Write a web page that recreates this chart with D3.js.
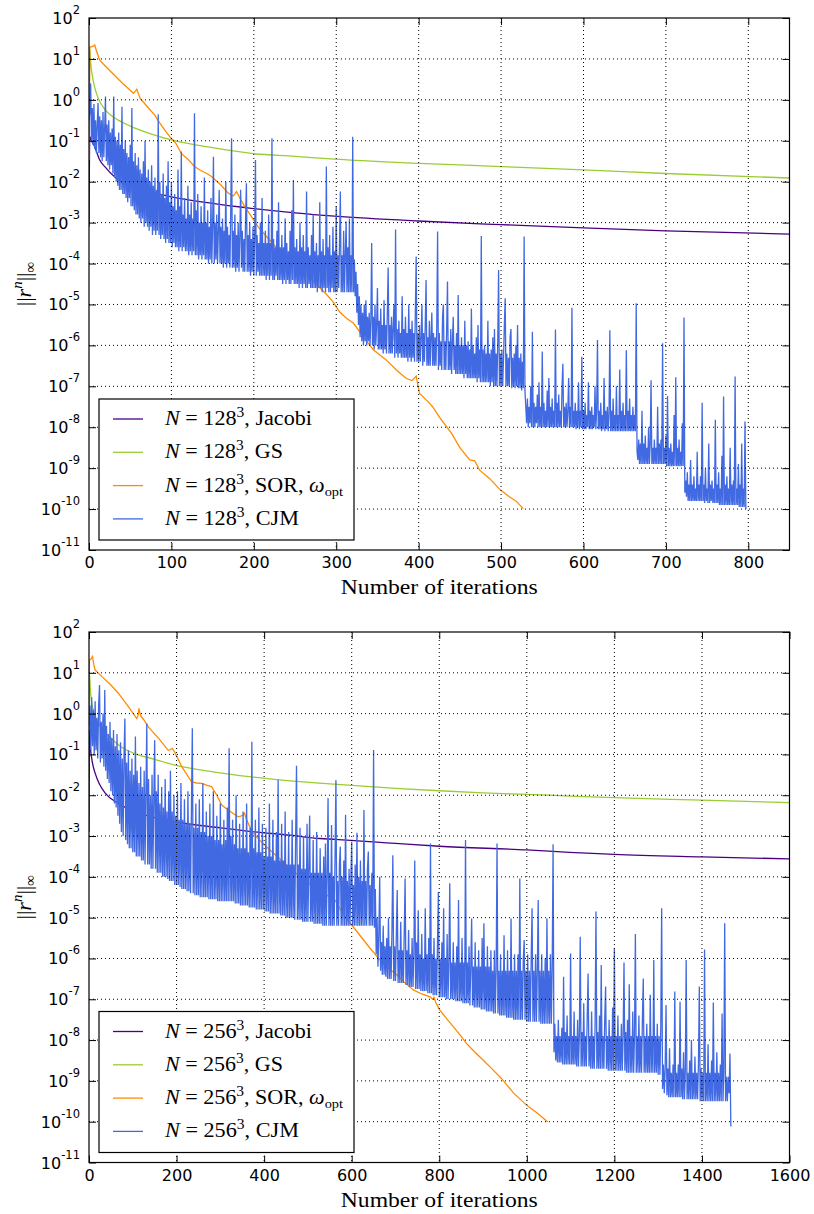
<!DOCTYPE html>
<html>
<head>
<meta charset="utf-8">
<script src="https://cdn.jsdelivr.net/npm/d3@7"></script>
<style>
  body { margin: 0; background: #fff; }
</style>
</head>
<body>
<svg id="fig" width="814" height="1214"></svg>
<script>
// ---- data (residual as log10) ----
var xTicks128 = [0, 100, 200, 300, 400, 500, 600, 700, 800];
var xTicks256 = [0, 200, 400, 600, 800, 1000, 1200, 1400, 1600];
var yTickExps = [2, 1, 0, -1, -2, -3, -4, -5, -6, -7, -8, -9, -10, -11];
var methods = ["Jacobi", "GS", "SOR", "CJM"];
var gridSizes = ["128", "256"];

var jac128It  = [0, 1, 3, 7, 13, 20, 36, 54, 75, 100, 150, 197, 250, 298, 400, 500, 600, 700, 850];
var jac128Log = [-3.1, -0.9, -1.0, -1.15, -1.47, -1.65, -1.96, -2.12, -2.25, -2.37, -2.53, -2.65, -2.76, -2.84, -2.96, -3.05, -3.13, -3.2, -3.28];

var gs128It  = [0, 1, 2, 4, 7, 12, 20, 35, 50, 75, 100, 150, 197, 250, 298, 400, 500, 600, 700, 850];
var gs128Log = [-1.47, 1.22, 0.9, 0.6, 0.3, 0.0, -0.25, -0.49, -0.64, -0.83, -0.98, -1.17, -1.31, -1.38, -1.45, -1.55, -1.63, -1.71, -1.8, -1.91];

var sor128It  = [0, 1, 4, 7, 9, 13, 20, 30, 40, 54, 58, 62, 70, 80, 86, 92, 98, 105, 112, 120, 128, 135, 143, 149,
                 160, 169, 175, 179, 183, 189, 197, 205, 218, 230, 245, 258, 268, 278, 288, 296, 304, 312, 321, 333,
                 345, 361, 373, 385, 392, 397, 401, 410, 417, 426, 440, 450, 462, 468, 474, 486, 499, 510, 518, 527];
var sor128Log = [-1.47, 1.29, 1.3, 1.34, 1.2, 0.97, 0.82, 0.62, 0.42, 0.16, 0.26, 0.04, -0.15, -0.38, -0.57, -0.74, -0.9, -1.05, -1.31, -1.45, -1.63, -1.72, -1.8, -1.88,
                 -2.08, -2.28, -2.35, -2.24, -2.4, -2.61, -2.85, -3.1, -3.4, -3.67, -3.95, -4.16, -4.35, -4.55, -4.75, -4.93, -5.18, -5.33, -5.46, -5.79,
                 -6.11, -6.36, -6.6, -6.81, -6.86, -6.75, -7.17, -7.35, -7.5, -7.78, -8.15, -8.5, -8.8, -8.82, -9.05, -9.25, -9.53, -9.7, -9.8, -9.99];

// CJM, N=128^3: one value per iteration (0..797)
var cjm128Step = 1;
var cjm128Log = [
  -0.5, -0.3, 0.4, -1.0, -0.2, -1.1, -0.1, -1.2, -0.5, -1.3, -0.6, -0.08, -1.3, -0.4, -1.4, -0.5, -1.5, -0.3, -1.4, -0.7,
  0.08, -1.5, -0.6, -1.6, -0.5, -1.7, -0.8, -1.6, -0.7, -1.8, 0.08, -1.9, -0.9, -2.0, -1.0, -2.1, -0.8, -2.2, -1.1, -2.2,
  -0.17, -2.3, -1.2, -2.3, -1.0, -2.4, -1.3, -2.5, -1.4, -2.4, -1.1, -2.6, -0.2, -2.6, -1.5, -2.7, -1.3, -2.8, -1.6, -2.8,
  -1.4, -2.9, -1.7, -3.0, -1.8, -2.9, -1.5, -3.1, -1.0, -3.0, -1.9, -3.1, -1.7, -3.2, -2.0, -3.1, -1.6, -3.3, -2.1, -3.2,
  -1.9, -3.3, -2.2, -3.2, -0.35, -3.3, -2.0, -3.4, -2.3, -3.3, -1.8, -3.4, -2.4, -3.5, -2.1, -3.4, -1.5, -3.5, -2.5, -3.5,
  -2.0, -3.6, -2.6, -3.5, -2.3, -3.6, -2.7, -3.6, -1.7, -3.7, -2.6, -3.6, -1.26, -3.7, -2.8, -3.6, -2.4, -3.7, -2.9, -3.7,
  -2.1, -3.8, -2.8, -3.7, -2.5, -3.8, -2.9, -3.7, -0.33, -3.8, -2.7, -3.8, -2.3, -3.9, -3.0, -3.8, -2.6, -3.9, -3.0, -3.8,
  -1.9, -3.9, -3.0, -3.9, -2.7, -4.0, -3.1, -3.9, -2.4, -4.0, -3.1, -1.39, -4.0, -3.0, -3.9, -2.8, -4.0, -3.2, -2.2, -4.0,
  -3.1, -4.0, -2.9, -4.1, -3.2, -4.0, -2.0, -4.1, -3.1, -4.0, -3.3, -4.1, -2.7, -0.94, -4.1, -3.2, -4.1, -2.8, -4.2, -3.3,
  -4.1, -3.0, -4.2, -3.3, -2.2, -4.1, -3.2, -4.2, -3.4, -4.2, -2.9, -2.04, -4.2, -3.3, -4.2, -3.0, -4.3, -3.4, -4.2, -3.1,
  -4.3, -3.4, -1.47, -4.3, -3.3, -4.2, -3.5, -4.3, -3.0, -4.3, -2.4, -4.3, -3.5, -4.3, -3.2, -4.4, -3.5, -4.3, -2.8, -4.4,
  -3.5, -4.3, -0.94, -4.4, -3.4, -4.4, -3.6, -4.3, -3.2, -4.4, -2.5, -4.4, -3.6, -4.4, -3.3, -4.5, -3.6, -4.4, -2.9, -4.5,
  -3.5, -4.4, -3.7, -4.5, -3.2, -4.5, -2.7, -4.4, -1.96, -4.5, -3.6, -4.5, -3.4, -4.5, -3.7, -4.6, -3.0, -4.5, -3.6, -4.6,
  -3.3, -4.5, -3.7, -4.6, -2.24, -4.6, -3.6, -4.5, -3.8, -4.6, -3.3, -4.6, -2.8, -4.6, -3.7, -4.6, -3.5, -4.7, -3.8, -4.6,
  -2.5, -4.6, -3.7, -4.7, -3.4, -4.6, -3.8, -4.7, -1.63, -4.6, -3.6, -4.7, -3.3, -4.7, -3.8, -4.6, -3.1, -4.7, -3.7, -4.7,
  -2.6, -4.7, -3.8, -4.6, -3.5, -2.24, -4.7, -3.8, -4.7, -3.2, -4.7, -3.8, -2.97, -4.7, -3.6, -4.7, -2.9, -4.7, -3.8, -4.7,
  -0.9, -4.7, -3.9, -4.8, -4.2, -5.2, -4.5, -5.5, -4.8, -5.8, -5.0, -5.9, -5.2, -6.0, -5.0, -5.9, -4.9, -6.0, -5.3, -5.9,
  -5.2, -6.0, -5.4, -3.5, -6.0, -5.3, -6.1, -5.0, -6.0, -5.5, -4.6, -6.1, -5.4, -6.1, -5.1, -6.1, -5.5, -6.2, -4.9, -6.1,
  -5.5, -6.2, -5.2, -4.1, -6.2, -5.5, -6.2, -5.3, -6.2, -5.6, -5.0, -6.3, -3.17, -6.2, -5.6, -6.3, -5.4, -6.2, -5.7, -6.3,
  -4.8, -6.3, -5.6, -6.3, -5.3, -6.3, -5.7, -6.4, -5.0, -6.3, -5.6, -6.4, -5.4, -6.3, -5.7, -6.4, -5.2, -3.83, -6.4, -5.7,
  -6.4, -5.5, -6.4, -5.8, -5.0, -6.5, -5.7, -6.4, -5.5, -4.4, -6.5, -5.8, -6.5, -5.4, -6.5, -5.8, -5.2, -6.5, -5.7, -6.5,
  -5.8, -6.5, -5.5, -3.22, -6.6, -5.7, -6.5, -5.9, -6.6, -5.3, -5.0, -6.6, -5.9, -6.6, -5.6, -4.44, -6.6, -5.9, -6.6, -5.6,
  -6.7, -5.9, -5.3, -6.6, -6.0, -6.7, -5.7, -6.7, -4.77, -6.7, -6.0, -6.7, -5.8, -6.7, -6.0, -6.8, -5.4, -6.7, -6.0, -6.8,
  -5.9, -6.8, -6.1, -6.8, -5.1, -6.8, -6.0, -6.8, -6.2, -6.8, -5.8, -6.9, -5.5, -6.8, -6.1, -6.9, -3.33, -6.9, -6.1, -6.9,
  -6.0, -6.9, -6.2, -6.9, -5.4, -6.9, -6.2, -7.0, -6.1, -6.9, -5.8, -7.0, -5.6, -7.0, -6.2, -7.0, -5.9, -4.16, -7.0, -6.2,
  -7.0, -6.1, -7.0, -6.3, -5.5, -4.85, -7.0, -6.2, -7.0, -6.3, -7.0, -5.8, -5.6, -7.05, -6.3, -7.0, -6.2, -7.05, -6.0, -7.0,
  -5.5, -7.05, -6.3, -7.05, -6.2, -7.1, -6.4, -7.05, -3.34, -7.1, -7.5, -7.9, -7.3, -8.0, -7.5, -7.9, -7.0, -8.0, -5.67, -8.0,
  -7.4, -8.0, -7.5, -7.9, -7.2, -8.0, -6.9, -8.0, -7.5, -8.0, -6.15, -8.0, -7.4, -8.0, -7.6, -8.0, -7.1, -8.0, -6.8, -8.0,
  -7.5, -8.0, -7.3, -8.0, -7.6, -8.0, -5.61, -8.0, -7.4, -8.0, -7.2, -8.0, -7.6, -8.0, -7.0, -6.45, -8.0, -7.5, -8.0, -7.4,
  -8.0, -7.6, -6.8, -8.0, -7.5, -8.0, -5.08, -8.0, -7.6, -8.0, -7.4, -8.05, -7.6, -8.0, -6.9, -8.05, -7.6, -8.0, -6.28, -8.05,
  -7.6, -8.05, -7.4, -8.05, -7.7, -8.0, -6.9, -8.05, -7.6, -8.05, -7.5, -8.05, -7.7, -8.0, -7.0, -8.05, -7.6, -5.87, -8.05, -7.6,
  -8.05, -7.4, -8.1, -7.7, -8.05, -6.8, -8.1, -7.6, -8.05, -7.5, -8.1, -7.7, -5.63, -8.1, -7.6, -8.1, -7.3, -8.1, -7.7, -8.1,
  -7.0, -8.1, -7.7, -8.1, -6.59, -8.1, -7.6, -8.1, -7.4, -8.1, -7.7, -8.1, -6.12, -8.1, -7.6, -8.1, -7.3, -8.1, -7.7, -8.1,
  -7.5, -8.1, -7.7, -8.1, -4.97, -8.6, -8.8, -8.3, -8.9, -8.4, -8.9, -7.6, -8.9, -8.4, -8.9, -8.2, -8.9, -8.5, -8.9, -8.0,
  -8.9, -8.4, -6.85, -8.9, -8.5, -8.9, -8.3, -8.9, -8.5, -8.9, -7.5, -8.9, -8.4, -8.9, -8.3, -8.9, -5.95, -8.9, -8.5, -8.9,
  -8.2, -8.95, -7.24, -8.95, -8.5, -8.95, -8.4, -8.95, -8.6, -8.95, -7.7, -8.95, -6.78, -8.95, -8.5, -8.95, -8.3, -8.95, -8.6, -8.95,
  -7.9, -8.95, -5.32, -9.6, -9.3, -9.7, -9.1, -9.8, -9.4, -9.8, -8.8, -9.8, -9.4, -9.8, -9.2, -9.8, -9.5, -9.8, -8.6, -9.8,
  -9.4, -9.8, -9.2, -9.8, -7.4, -9.8, -9.4, -9.85, -9.0, -9.8, -9.5, -9.85, -8.4, -9.85, -9.4, -9.8, -9.3, -9.85, -9.5, -9.85,
  -7.82, -9.85, -9.4, -9.85, -9.1, -9.9, -9.5, -9.9, -8.7, -9.9, -7.25, -9.9, -9.4, -9.9, -9.2, -9.9, -9.5, -9.9, -8.5, -9.9,
  -9.4, -9.9, -9.3, -9.9, -6.76, -9.9, -9.5, -9.9, -8.9, -9.95, -9.4, -9.95, -8.4, -9.95, -9.5, -9.95, -7.86, -10.0
];

var jac256It  = [0, 1, 3, 7, 14, 25, 37, 67, 100, 150, 196, 300, 371, 460, 527, 562, 700, 800, 1000, 1098, 1200, 1400, 1600];
var jac256Log = [-2.9, -0.4, -0.8, -1.15, -1.46, -1.75, -1.95, -2.2, -2.38, -2.55, -2.65, -2.8, -2.89, -2.98, -3.06, -3.08, -3.18, -3.25, -3.34, -3.4, -3.45, -3.51, -3.56];

var gs256It  = [0, 1, 3, 6, 10, 15, 27, 45, 73, 100, 150, 196, 280, 371, 460, 562, 700, 800, 900, 1000, 1098, 1200, 1400, 1600];
var gs256Log = [-0.4, 1.0, 0.6, 0.3, 0.05, -0.1, -0.32, -0.55, -0.81, -0.96, -1.12, -1.26, -1.42, -1.55, -1.65, -1.73, -1.83, -1.89, -1.94, -1.98, -2.02, -2.06, -2.12, -2.18];

var sor256It  = [0, 1, 4, 8, 11, 14, 30, 50, 67, 90, 109, 112, 114, 118, 125, 136, 160, 181, 186, 190, 196, 212, 234, 245,
                 257, 270, 280, 292, 303, 320, 341, 350, 355, 360, 372, 390, 409, 435, 463, 495, 524, 562, 580, 600,
                 620, 642, 665, 685, 703, 720, 741, 760, 779, 785, 788, 792, 801, 815, 832, 848, 862, 880, 900, 920,
                 942, 970, 1000, 1025, 1048];
var sor256Log = [-0.4, 1.31, 1.33, 1.4, 1.2, 1.07, 0.9, 0.7, 0.5, 0.17, -0.12, -0.05, 0.13, -0.05, -0.15, -0.33, -0.62, -0.9, -0.88, -0.85, -0.95, -1.3, -1.67, -1.7,
                 -1.71, -1.76, -1.79, -2.0, -2.24, -2.38, -2.53, -2.5, -2.44, -2.6, -2.89, -3.1, -3.3, -3.55, -3.83, -4.1, -4.32, -4.57, -4.9, -5.18,
                 -5.45, -5.75, -6.04, -6.25, -6.4, -6.58, -6.77, -6.87, -6.94, -7.0, -6.95, -7.08, -7.26, -7.45, -7.67, -7.88, -8.08, -8.28, -8.49, -8.7,
                 -8.94, -9.3, -9.6, -9.8, -10.01];

// CJM, N=256^3: one value every 2 iterations (0..1466)
var cjm256Step = 2;
var cjm256Log = [
  -0.3, 0.2, -0.9, 0.4, -0.8, 0.1, -1.0, 0.3, -0.9, -0.1, -1.1, 0.2, 0.7, -1.2, -0.2, -1.1, 0.0, -1.3, 0.58, -1.4,
  -0.3, -1.6, -0.5, -1.7, -0.2, -1.9, -0.6, -2.0, -0.4, -2.2, -0.8, -2.3, -0.5, -2.5, -0.9, -2.7, -0.7, -2.9, -1.1, -3.0,
  -1.0, -0.12, -3.1, -1.2, -3.2, -0.9, -3.3, -1.4, -3.3, -1.1, -3.4, -1.5, -3.4, -0.56, -3.5, -1.4, -3.5, -1.7, -3.5, -1.3,
  -3.6, -1.8, -3.6, -1.4, -3.7, -1.9, -0.24, -3.7, -1.6, -3.7, -2.0, -3.8, -1.5, -3.8, -2.1, -0.65, -3.8, -1.9, -3.9, -1.5,
  -3.9, -2.2, -3.9, -1.8, -4.0, -2.3, -4.0, -1.6, -4.0, -2.4, -4.05, -1.9, -4.1, -1.4, -4.1, -2.4, -4.1, -2.0, -4.2, -2.5,
  -4.2, -1.9, -4.2, -2.6, -4.25, -1.7, -4.3, -2.6, -4.3, -2.1, -4.3, -2.7, -4.35, -1.9, -4.35, -2.7, -4.4, -2.3, -0.36, -4.4,
  -2.8, -4.45, -2.2, -4.45, -2.8, -4.45, -2.1, -4.5, -2.9, -4.5, -1.7, -4.5, -2.9, -4.5, -2.4, -4.5, -3.0, -4.55, -2.2, -4.55,
  -3.0, -4.55, -1.9, -4.55, -3.1, -4.55, -2.5, -4.6, -3.1, -4.6, -2.2, -4.6, -3.2, -4.6, -2.6, -4.6, -3.1, -4.6, -2.3, -4.6,
  -0.85, -4.6, -3.0, -4.6, -2.6, -4.6, -3.2, -4.65, -2.0, -4.65, -3.3, -4.65, -2.7, -4.7, -3.3, -4.7, -2.4, -4.7, -3.3, -4.7,
  -2.2, -4.7, -3.4, -4.75, -2.8, -4.75, -0.69, -4.75, -3.3, -4.75, -2.6, -4.8, -3.4, -4.8, -2.3, -4.8, -3.4, -4.8, -2.7, -4.8,
  -3.5, -4.85, -2.8, -4.85, -3.5, -4.85, -2.2, -4.9, -3.5, -4.9, -2.6, -4.9, -3.6, -4.9, -2.9, -4.9, -1.62, -4.9, -3.6, -4.95,
  -2.7, -4.95, -3.6, -4.95, -2.4, -5.0, -3.7, -5.0, -2.9, -5.0, -3.7, -5.0, -2.6, -5.0, -3.7, -5.05, -3.0, -1.28, -5.05, -3.7,
  -5.05, -2.8, -5.05, -3.8, -5.1, -3.0, -5.1, -3.8, -5.1, -2.7, -5.1, -3.8, -2.5, -5.1, -3.9, -5.1, -3.1, -5.15, -3.9, -5.15,
  -2.9, -5.15, -3.9, -5.15, -3.3, -5.15, -3.9, -5.2, -3.5, -5.2, -3.18, -5.2, -4.0, -2.07, -5.2, -3.9, -5.2, -2.73, -5.2, -4.0,
  -5.2, -3.5, -1.63, -5.2, -4.1, -5.2, -3.7, -3.26, -5.2, -4.0, -5.2, -3.6, -5.2, -2.48, -5.2, -4.1, -5.2, -3.8, -5.2, -4.1,
  -3.14, -5.2, -4.2, -5.2, -3.7, -5.2, -2.92, -5.2, -4.0, -5.2, -3.6, -5.2, -4.1, -5.2, -2.36, -5.2, -4.1, -5.2, -3.8, -3.38,
  -5.2, -4.2, -5.2, -3.9, -5.2, -0.89, -5.25, -4.3, -5.9, -5.0, -6.2, -5.4, -4.0, -6.3, -5.6, -6.4, -5.2, -6.4, -5.7, -6.45,
  -5.5, -6.5, -5.0, -6.5, -5.7, -6.5, -5.3, -3.47, -6.55, -5.7, -6.55, -5.4, -4.32, -6.6, -5.8, -6.6, -5.1, -6.6, -5.8, -6.6,
  -5.4, -4.04, -6.65, -5.8, -6.65, -5.3, -6.7, -5.9, -6.7, -5.5, -6.7, -5.9, -3.6, -6.75, -5.6, -6.75, -4.82, -6.75, -5.9, -6.8,
  -5.4, -6.8, -6.0, -6.8, -4.77, -6.8, -5.9, -6.85, -5.5, -6.85, -3.18, -6.85, -5.9, -6.9, -5.5, -6.9, -6.0, -6.9, -5.6, -4.37,
  -6.95, -6.0, -6.95, -5.6, -6.95, -4.77, -6.95, -6.0, -7.0, -5.4, -7.0, -6.1, -4.16, -7.0, -6.1, -7.0, -5.6, -7.0, -6.1, -7.05,
  -5.7, -7.05, -4.57, -7.05, -6.1, -7.05, -5.5, -7.1, -6.1, -7.1, -3.1, -7.1, -6.1, -7.1, -5.7, -7.15, -6.2, -5.02, -7.15, -6.2,
  -7.2, -5.6, -7.2, -6.2, -7.2, -5.8, -7.2, -6.2, -7.25, -5.5, -7.25, -5.14, -7.25, -6.2, -7.3, -5.7, -7.3, -6.2, -7.3, -5.8,
  -7.3, -6.3, -7.35, -5.8, -7.35, -6.3, -3.18, -7.35, -6.3, -7.4, -5.9, -7.4, -6.3, -7.4, -5.43, -7.4, -6.3, -7.45, -5.8, -7.45,
  -6.3, -7.45, -5.02, -7.45, -6.3, -7.5, -5.9, -7.5, -6.3, -7.5, -5.9, -7.5, -4.04, -7.5, -6.3, -7.5, -6.0, -5.55, -7.5, -6.3,
  -7.55, -5.9, -7.55, -6.3, -7.55, -6.0, -4.77, -7.55, -6.3, -7.55, -5.9, -7.55, -6.3, -4.57, -7.55, -6.3, -7.6, -5.9, -7.6, -6.3,
  -7.6, -6.0, -7.6, -5.02, -7.6, -6.3, -7.6, -5.9, -7.6, -6.2, -3.2, -8.3, -7.6, -8.5, -7.9, -8.55, -7.5, -8.55, -7.9, -8.55,
  -7.7, -8.6, -6.45, -8.6, -7.8, -8.6, -7.4, -8.6, -7.9, -8.6, -5.88, -8.6, -7.9, -8.6, -7.3, -8.6, -7.9, -8.65, -7.5, -8.65,
  -7.9, -5.47, -8.65, -7.8, -8.65, -7.1, -8.65, -7.9, -8.65, -7.4, -6.37, -8.65, -7.9, -8.7, -7.3, -8.7, -7.9, -8.7, -7.6, -4.85,
  -8.7, -7.8, -8.7, -7.4, -8.7, -6.16, -8.7, -7.9, -8.7, -7.5, -6.69, -8.7, -7.9, -8.75, -7.5, -8.75, -7.9, -8.75, -7.2, -8.75,
  -5.75, -8.75, -7.9, -8.75, -7.4, -8.75, -7.9, -8.75, -7.6, -8.75, -7.9, -6.1, -8.75, -7.8, -8.8, -7.5, -8.8, -6.63, -8.8, -7.9,
  -8.8, -7.3, -8.8, -7.9, -5.4, -8.8, -7.9, -8.8, -7.4, -8.8, -7.9, -8.8, -7.5, -6.49, -8.8, -7.9, -8.8, -7.6, -8.8, -7.9,
  -8.8, -6.89, -8.8, -7.9, -8.8, -6.04, -8.8, -7.9, -8.8, -7.6, -8.85, -7.9, -8.85, -7.7, -4.77, -9.2, -8.6, -9.3, -8.7, -7.14,
  -9.35, -8.7, -9.4, -8.2, -9.4, -8.8, -9.4, -8.6, -9.4, -6.81, -9.4, -8.8, -9.4, -8.6, -9.4, -7.06, -9.4, -8.7, -9.45, -8.3,
  -9.45, -8.8, -6.04, -9.45, -8.8, -9.45, -8.5, -9.45, -8.0, -9.45, -8.8, -9.45, -8.4, -9.45, -8.8, -9.45, -8.6, -6.69, -9.5, -8.7,
  -9.5, -8.8, -9.5, -5.78, -9.5, -8.8, -9.5, -8.1, -9.5, -8.8, -9.5, -8.5, -9.5, -7.08, -9.5, -8.8, -9.5, -8.3, -9.5, -8.8,
  -9.5, -8.6, -9.5, -7.35, -9.5, -8.8, -5.14, -9.5, -8.9, -9.5, -8.9, -9.3, -8.33, -10.12
];

// ---- layout ----
var svg = d3.select("#fig");
var left = 89, right = 789.5;
var colors = ["#4b0082", "#9acd32", "#ff8c00", "#4169e1"];
var tickFont = "DejaVu Sans, Bitstream Vera Sans, sans-serif";
var mathFont = "Liberation Serif, Times New Roman, serif";
var legendWidths = [147, 118, 178, 134];

var panels = [
  { top: 18, bottom: 550, xMax: 850, xTicks: xTicks128, n: gridSizes[0],
    series: [[jac128It, jac128Log], [gs128It, gs128Log], [sor128It, sor128Log]],
    cjm: cjm128Log, cjmStep: cjm128Step, cjmWidth: 1.3 },
  { top: 632, bottom: 1162.5, xMax: 1600, xTicks: xTicks256, n: gridSizes[1],
    series: [[jac256It, jac256Log], [gs256It, gs256Log], [sor256It, sor256Log]],
    cjm: cjm256Log, cjmStep: cjm256Step, cjmWidth: 1.3 }
];

function zip(its, logs) {
  return its.map(function(it, i) { return [it, logs[i]]; });
}

panels.forEach(function(p, pi) {
  var g = svg.append("g");
  var x = d3.scaleLinear().domain([0, p.xMax]).range([left, right]);
  var y = d3.scaleLog().domain([1e-11, 1e2]).range([p.bottom, p.top]);
  var yTicks = yTickExps.map(function(e) { return Math.pow(10, e); });

  var clipId = "clip" + pi;
  svg.append("clipPath").attr("id", clipId)
    .append("rect").attr("x", left).attr("y", p.top)
    .attr("width", right - left).attr("height", p.bottom - p.top);

  var line = d3.line()
    .x(function(d) { return x(d[0]); })
    .y(function(d) { return y(Math.pow(10, d[1])); });

  var plot = g.append("g").attr("clip-path", "url(#" + clipId + ")");

  p.series.forEach(function(s, si) {
    plot.append("path")
      .datum(zip(s[0], s[1]))
      .attr("fill", "none")
      .attr("stroke", colors[si])
      .attr("stroke-width", 1.3)
      .attr("d", line.curve(si == 2 ? d3.curveLinear : d3.curveMonotoneX));
  });

  var cjmPts = p.cjm.map(function(v, i) { return [i * p.cjmStep, v]; });
  plot.append("path")
    .datum(cjmPts)
    .attr("fill", "none")
    .attr("stroke", colors[3])
    .attr("stroke-width", p.cjmWidth)
    .attr("stroke-linejoin", "bevel")
    .attr("d", line.curve(d3.curveLinear));

  // dotted grid (drawn over the data, like the classic style)
  var grid = g.append("g").attr("stroke", "#000").attr("stroke-width", 1)
    .attr("stroke-dasharray", "1,3");
  grid.selectAll(".gx").data(p.xTicks.filter(function(t) { return t > 0 && t < p.xMax; }))
    .enter().append("line")
    .attr("x1", function(d) { return x(d); }).attr("x2", function(d) { return x(d); })
    .attr("y1", p.top).attr("y2", p.bottom);
  grid.selectAll(".gy").data(yTicks.slice(1, -1))
    .enter().append("line")
    .attr("y1", function(d) { return y(d); }).attr("y2", function(d) { return y(d); })
    .attr("x1", left).attr("x2", right);

  // axes with inward ticks on all sides
  var ax = g.append("g").attr("transform", "translate(0," + p.bottom + ")")
    .call(d3.axisBottom(x).tickValues(p.xTicks).tickSize(-7).tickPadding(7).tickFormat(d3.format("d")));
  g.append("g").attr("transform", "translate(0," + p.top + ")")
    .call(d3.axisTop(x).tickValues(p.xTicks).tickSize(-7).tickFormat(""));
  var ay = g.append("g").attr("transform", "translate(" + left + ",0)")
    .call(d3.axisLeft(y).tickValues(yTicks).tickSize(-7).tickPadding(9));
  g.append("g").attr("transform", "translate(" + right + ",0)")
    .call(d3.axisRight(y).tickValues(yTicks).tickSize(-7).tickFormat(""));

  g.selectAll(".domain").remove();
  g.selectAll(".tick line").attr("stroke", "#000").attr("stroke-width", 1);
  ax.selectAll("text").attr("font-family", tickFont).attr("font-size", 16).attr("fill", "#000");

  ay.selectAll("text").each(function(d, i) {
    var t = d3.select(this).text(null)
      .attr("font-family", tickFont).attr("fill", "#000").attr("dy", null)
      .attr("y", 5.5);
    t.append("tspan").attr("font-size", 16).text("10");
    t.append("tspan").attr("font-size", 11.5).attr("dy", -10).text(String(yTickExps[i]));
  });

  // frame
  g.append("rect").attr("x", left).attr("y", p.top)
    .attr("width", right - left).attr("height", p.bottom - p.top)
    .attr("fill", "none").attr("stroke", "#000").attr("stroke-width", 1.2);

  // legend
  var lg = g.append("g").attr("transform", "translate(99," + (p.bottom - 151) + ")");
  lg.append("rect").attr("width", 255).attr("height", 141)
    .attr("fill", "#fff").attr("stroke", "#000").attr("stroke-width", 1.2);
  methods.forEach(function(m, i) {
    var ry = 20 + i * 33.3;
    lg.append("line").attr("x1", 14).attr("x2", 44).attr("y1", ry).attr("y2", ry)
      .attr("stroke", colors[i]).attr("stroke-width", 1.3);
    var t = lg.append("text").attr("x", 66).attr("y", ry + 6)
      .attr("font-family", mathFont).attr("font-size", 20).attr("fill", "#000")
      .attr("textLength", legendWidths[i]).attr("lengthAdjust", "spacingAndGlyphs");
    t.append("tspan").attr("font-style", "italic").text("N");
    t.append("tspan").text(" = " + p.n);
    t.append("tspan").attr("font-size", 14).attr("dy", -8).text("3");
    if (m == "SOR") {
      t.append("tspan").attr("dy", 8).text(", SOR, ");
      t.append("tspan").attr("font-style", "italic").text("\u03c9");
      t.append("tspan").attr("font-size", 13).attr("dy", 4).text("opt");
    } else {
      t.append("tspan").attr("dy", 8).text(", " + m);
    }
  });

  // axis labels
  g.append("text").attr("x", (left + right) / 2).attr("y", p.bottom + 44)
    .attr("text-anchor", "middle").attr("font-family", mathFont).attr("font-size", 20)
    .attr("textLength", 197).attr("lengthAdjust", "spacingAndGlyphs")
    .text("Number of iterations");

  var yl = g.append("text")
    .attr("transform", "translate(31," + ((p.top + p.bottom) / 2) + ") rotate(-90)")
    .attr("text-anchor", "middle").attr("font-family", mathFont).attr("font-size", 22);
  yl.append("tspan").text("||");
  yl.append("tspan").attr("font-style", "italic").text("r");
  yl.append("tspan").attr("font-style", "italic").attr("font-size", 15).attr("dy", -9).text("n");
  yl.append("tspan").attr("dy", 9).text("||");
  yl.append("tspan").attr("font-size", 15).attr("dy", 4).text("\u221e");
});
</script>
</body>
</html>
